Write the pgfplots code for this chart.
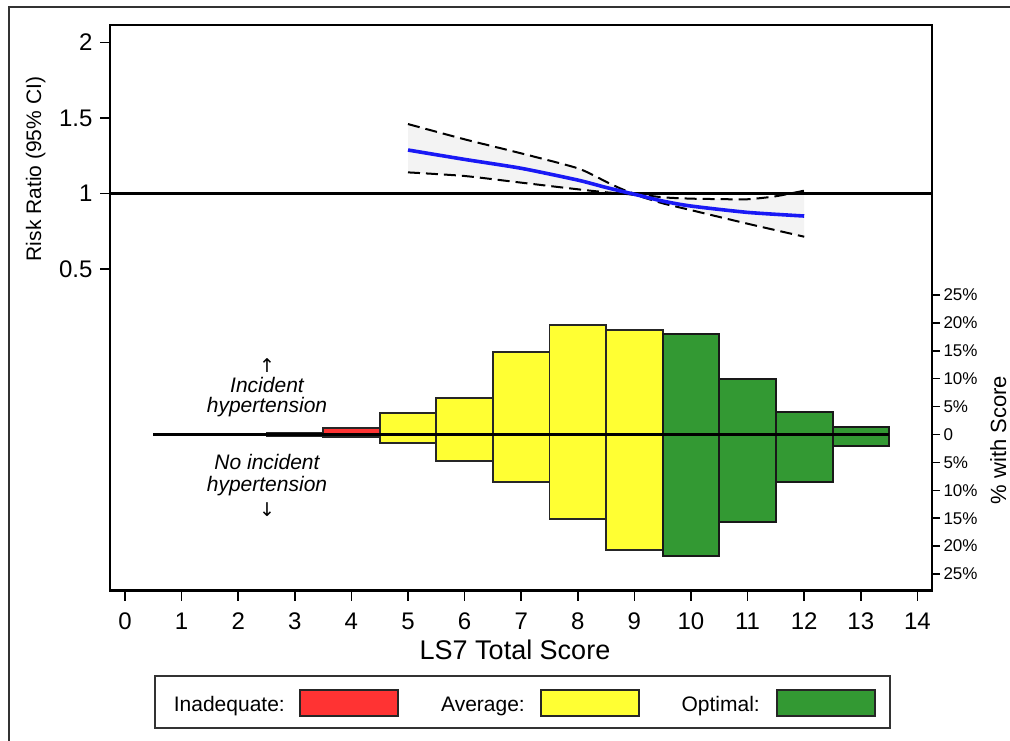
\documentclass[border=0pt]{standalone}
\usepackage{fontspec}
\setmainfont{Liberation Sans}
\newfontfamily\djv{DejaVu Sans}
\usepackage{pgfplots}
\pgfplotsset{compat=1.18}
\usepackage{pgfplotstable}
\usepgfplotslibrary{fillbetween}

\definecolor{cred}{RGB}{255,51,51}
\definecolor{cyel}{RGB}{255,255,51}
\definecolor{cgrn}{RGB}{51,153,51}
\definecolor{cblue}{RGB}{25,25,245}
\definecolor{cifill}{RGB}{243,243,243}

% percent with score: up = incident hypertension, down = no incident hypertension
\pgfplotstableread{
x up down
3 0.25 -0.25
4 1.2 -0.5
}\redtab
\pgfplotstableread{
x up down
5 3.8 -1.5
6 6.6 -4.7
7 14.8 -8.5
8 19.7 -15.2
9 18.8 -20.7
}\yeltab
\pgfplotstableread{
x up down
10 18.0 -21.8
11 10.0 -15.7
12 4.0 -8.6
13 1.3 -2.1
}\grntab

% risk ratio and 95% CI
\pgfplotstableread{
x rr
5 1.288
6 1.226
7 1.167
8 1.089
8.5 1.040
9 0.995
9.5 0.950
10 0.917
11 0.875
12 0.851
}\rrtab
\pgfplotstableread{
x hi
5 1.46
6 1.359
7 1.266
8 1.167
8.5 1.078
8.75 1.034
9 1.0
9.5 0.975
10 0.966
10.5 0.963
11 0.962
11.5 0.982
12 1.019
}\hitab
\pgfplotstableread{
x lo
5 1.14
6 1.116
7 1.072
8 1.028
8.5 1.008
9 0.99
9.5 0.935
10 0.89
11 0.80
12 0.714
}\lotab

\begin{document}
\begin{tikzpicture}
\draw[line width=1.8pt, black!80] (9pt,-741pt) -- (9pt,-7pt) -- (1010pt,-7pt);

\begin{axis}[
  scale only axis, width=822pt, height=565.5pt,
  at={(110pt,-590.5pt)}, anchor=south west,
  xmin=-0.265, xmax=14.258, ymin=-1.629, ymax=2.116,
  xtick={0,1,...,14},
  xticklabels={0,1,2,3,4,5,6,7,8,9,10,11,12,13,14},
  ytick={0.5,1,1.5,2}, yticklabels={0.5,1,1.5,2},
  xtick pos=bottom, ytick pos=left, tick align=outside,
  major tick length=10pt,
  axis line style={line width=2.3pt},
  tick style={black, line width=1.6pt},
  xticklabel style={font=\fontsize{24}{24}\selectfont, yshift=-9pt},
  yticklabel style={font=\fontsize{24}{24}\selectfont, xshift=-4pt},
]
\addplot[draw=none, name path=hi, smooth, tension=0.4] table[x=x,y=hi]{\hitab};
\addplot[draw=none, name path=lo, smooth, tension=0.4] table[x=x,y=lo]{\lotab};
\addplot[cifill] fill between[of=hi and lo];
\addplot[black, line width=2.5pt] coordinates {(-0.265,1) (14.258,1)};
\addplot[black, line width=2pt, dash pattern=on 12pt off 6pt, smooth, tension=0.4] table[x=x,y=hi]{\hitab};
\addplot[black, line width=2pt, dash pattern=on 12pt off 6pt, smooth, tension=0.4] table[x=x,y=lo]{\lotab};
\addplot[cblue, line width=3.6pt, smooth, tension=0.4] table[x=x,y=rr]{\rrtab};
\end{axis}

\begin{axis}[
  scale only axis, width=822pt, height=565.5pt,
  at={(110pt,-590.5pt)}, anchor=south west,
  xmin=-0.265, xmax=14.258, ymin=-27.96, ymax=73.4,
  axis x line=none, axis y line*=right,
  ytick={-25,-20,...,25},
  yticklabels={25\%,20\%,15\%,10\%,5\%,0,5\%,10\%,15\%,20\%,25\%},
  tick align=outside, major tick length=8pt,
  axis line style={line width=2.3pt},
  tick style={black, line width=1.4pt},
  yticklabel style={font=\fontsize{17}{17}\selectfont},
]
\addplot[ybar, bar width=1, bar shift=0pt, fill=cred, draw=black!85, line width=1.8pt] table[x=x,y=up]{\redtab};
\addplot[ybar, bar width=1, bar shift=0pt, fill=cred, draw=black!85, line width=1.8pt] table[x=x,y=down]{\redtab};
\addplot[ybar, bar width=1, bar shift=0pt, fill=cyel, draw=black!85, line width=1.8pt] table[x=x,y=up]{\yeltab};
\addplot[ybar, bar width=1, bar shift=0pt, fill=cyel, draw=black!85, line width=1.8pt] table[x=x,y=down]{\yeltab};
\addplot[ybar, bar width=1, bar shift=0pt, fill=cgrn, draw=black!90, line width=2pt] table[x=x,y=up]{\grntab};
\addplot[ybar, bar width=1, bar shift=0pt, fill=cgrn, draw=black!90, line width=2pt] table[x=x,y=down]{\grntab};
\addplot[black, line width=2.5pt] coordinates {(0.5,0) (13.5,0)};
\end{axis}

% axis titles
\node[anchor=base, font=\fontsize{27}{27}\selectfont] at (515pt,-659pt) {LS7 Total Score};
\node[anchor=base, rotate=90, inner sep=0pt, font=\fontsize{21}{21}\selectfont] at (41pt,-169pt) {Risk Ratio (95\% CI)};
\node[anchor=base, rotate=90, inner sep=0pt, font=\fontsize{22}{22}\selectfont] at (1006pt,-440pt) {\% with Score};

% annotations
\node[anchor=base, inner sep=0pt, font=\djv\fontsize{19}{19}\selectfont] at (267pt,-372pt) {↑};
\node[anchor=base, inner sep=0pt, font=\itshape\fontsize{21}{21}\selectfont] at (267pt,-392pt) {Incident};
\node[anchor=base, inner sep=0pt, font=\itshape\fontsize{21}{21}\selectfont] at (267pt,-412pt) {hypertension};
\node[anchor=base, inner sep=0pt, font=\itshape\fontsize{21}{21}\selectfont] at (267pt,-469.5pt) {No incident};
\node[anchor=base, inner sep=0pt, font=\itshape\fontsize{21}{21}\selectfont] at (267pt,-491pt) {hypertension};
\node[anchor=base, inner sep=0pt, font=\djv\fontsize{19}{19}\selectfont] at (267pt,-516pt) {↓};

% legend
\draw[line width=1.8pt, black!80, fill=white] (155pt,-676pt) rectangle (890pt,-728pt);
\node[anchor=base east, inner sep=0pt, font=\fontsize{21}{21}\selectfont] at (285pt,-711pt) {Inadequate:};
\draw[fill=cred, draw=black!85, line width=1.5pt] (300pt,-690pt) rectangle (398pt,-716pt);
\node[anchor=base east, inner sep=0pt, font=\fontsize{21}{21}\selectfont] at (525pt,-711pt) {Average:};
\draw[fill=cyel, draw=black!85, line width=1.5pt] (541pt,-690pt) rectangle (639pt,-716pt);
\node[anchor=base east, inner sep=0pt, font=\fontsize{21}{21}\selectfont] at (760pt,-711pt) {Optimal:};
\draw[fill=cgrn, draw=black!85, line width=1.5pt] (777pt,-690pt) rectangle (875pt,-716pt);

\pgfresetboundingbox
\path[use as bounding box] (0pt,0pt) rectangle (1010pt,-741pt);
\end{tikzpicture}
\end{document}
